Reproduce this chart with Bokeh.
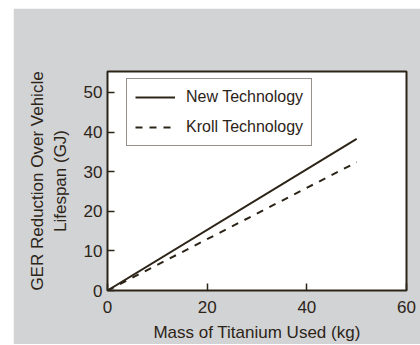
from bokeh.plotting import figure
from bokeh.models import Range1d, FixedTicker, Legend, LegendItem
from bokeh.embed import file_html
from bokeh.resources import INLINE

mass = [0, 50]
new_tech = [0, 38.3]
kroll_tech = [0, 32.4]
x_ticks = [0, 20, 40, 60]
y_ticks = [0, 10, 20, 30, 40, 50]
series_names = ["New Technology", "Kroll Technology"]
x_label = "Mass of Titanium Used (kg)"
y_label = "GER Reduction Over Vehicle\nLifespan (GJ)"

INK = "#2d2418"
BG = "#d1d3d4"
FONT = "Liberation Sans"

p = figure(frame_width=299, frame_height=219,
           min_border_left=94, min_border_right=14, min_border_top=63, min_border_bottom=54,
           output_backend="svg", toolbar_location=None,
           x_range=Range1d(0, 60), y_range=Range1d(0, 55.3),
           background_fill_color="white", border_fill_color=BG,
           margin=(8, 0, 0, 13))
p.grid.visible = False
p.outline_line_color = INK
p.outline_line_width = 2
p.outline_line_alpha = 1

r1 = p.line(mass, new_tech, line_color=INK, line_width=2)
r2 = p.line(mass, kroll_tech, line_color=INK, line_width=2, line_dash="7 7")

for ax, ticks in ((p.xaxis[0], x_ticks), (p.yaxis[0], y_ticks)):
    ax.ticker = FixedTicker(ticks=ticks)
    ax.axis_line_color = None
    ax.major_tick_in = 7
    ax.major_tick_out = 0
    ax.major_tick_line_color = INK
    ax.major_tick_line_width = 1.5
    ax.minor_tick_line_color = None
    ax.major_label_text_font = FONT
    ax.major_label_text_font_size = "17px"
    ax.major_label_text_color = INK
    ax.axis_label_text_font = FONT
    ax.axis_label_text_font_size = "17px"
    ax.axis_label_text_font_style = "normal"
    ax.axis_label_text_color = INK

p.xaxis[0].axis_label = x_label
p.yaxis[0].axis_label = y_label
p.xaxis[0].major_label_standoff = 10
p.yaxis[0].major_label_standoff = 5
p.xaxis[0].axis_label_standoff = 7
p.yaxis[0].axis_label_standoff = 11
p.yaxis[0].axis_label_text_align = "center"

legend = Legend(items=[LegendItem(label=series_names[0], renderers=[r1]),
                       LegendItem(label=series_names[1], renderers=[r2])],
                location=(19, 144), orientation="vertical",
                glyph_width=40, glyph_height=20, label_height=20,
                spacing=10, padding=8, margin=0, label_standoff=11,
                label_text_font=FONT, label_text_font_size="16px", label_text_color=INK,
                border_line_color=INK, border_line_width=1,
                background_fill_color="white", background_fill_alpha=1)
p.add_layout(legend, "center")

open("out.html", "w").write(file_html(p, INLINE))
